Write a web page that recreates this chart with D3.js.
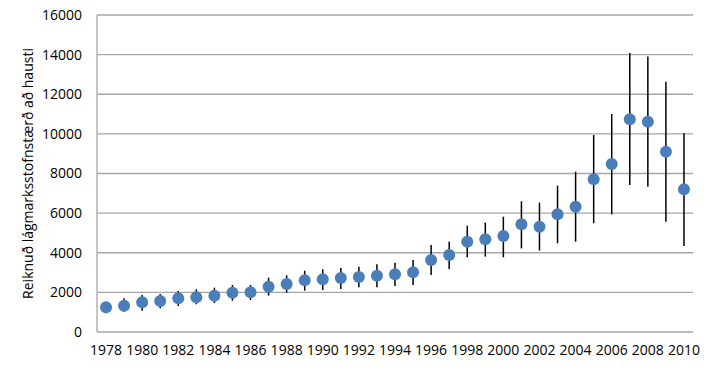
<!DOCTYPE html>
<html>
<head>
<meta charset="utf-8">
<script src="https://cdn.jsdelivr.net/npm/d3@7"></script>
<style>
  body { margin: 0; background: #fff; }
  text { font-family: "Open Sans", sans-serif; fill: #000; }
</style>
</head>
<body>
<script>
// ár og metin stofnstærð
const years = d3.range(1978, 2011);
const values = [1245, 1330, 1498, 1565, 1700, 1750, 1835, 1985, 2003, 2289, 2423,
  2608, 2660, 2726, 2776, 2844, 2911, 3013, 3634, 3887, 4559, 4678, 4846,
  5435, 5316, 5940, 6327, 7707, 8480, 10735, 10615, 9100, 7200];
const upper = [1531, 1700, 1868, 1918, 2070, 2154, 2238, 2372, 2372, 2743, 2860,
  3095, 3163, 3231, 3298, 3415, 3500, 3634, 4392, 4559, 5367, 5518, 5820,
  6595, 6527, 7386, 8093, 9944, 11005, 14084, 13900, 12635, 10030];
const lower = [943, 1025, 1077, 1196, 1312, 1398, 1464, 1580, 1615, 1835, 1985,
  2085, 2120, 2170, 2255, 2255, 2322, 2372, 2877, 3180, 3769, 3803, 3769,
  4223, 4105, 4475, 4560, 5485, 5940, 7420, 7335, 5570, 4340];
const yTicks = [0, 2000, 4000, 6000, 8000, 10000, 12000, 14000, 16000];
const yLabel = "Reiknuð lágmarksstofnstærð að hausti";

const W = 713, H = 371;
const margin = {left: 97, right: 20, top: 15, bottom: 39};

const svg = d3.select("body").append("svg")
  .attr("width", W).attr("height", H);

const x = d3.scaleBand()
  .domain(years)
  .range([margin.left, W - margin.right]);

const y = d3.scaleLinear()
  .domain([0, 16000])
  .range([H - margin.bottom, margin.top]);

// gridlines
svg.append("g")
  .selectAll("line")
  .data(yTicks)
  .enter().append("line")
  .attr("x1", margin.left)
  .attr("x2", W - margin.right)
  .attr("y1", d => y(d))
  .attr("y2", d => y(d))
  .attr("stroke", "#a6a6a6")
  .attr("stroke-width", 1.3);

// left axis line
svg.append("line")
  .attr("x1", margin.left).attr("x2", margin.left)
  .attr("y1", y(16000)).attr("y2", y(0))
  .attr("stroke", "#a6a6a6")
  .attr("stroke-width", 1.3);

const yAxis = svg.append("g")
  .attr("transform", `translate(${margin.left},0)`)
  .call(d3.axisLeft(y).tickValues(yTicks).tickSize(0).tickPadding(15).tickFormat(d3.format("d")));
yAxis.select(".domain").remove();
yAxis.selectAll("text").style("font-size", "14px").style("font-family", "Open Sans, sans-serif");

const xAxis = svg.append("g")
  .attr("transform", `translate(0,${H - margin.bottom})`)
  .call(d3.axisBottom(x).tickValues(years.filter(d => d % 2 === 0)).tickSize(0).tickPadding(13));
xAxis.select(".domain").remove();
xAxis.selectAll("text").style("font-size", "14px").style("font-family", "Open Sans, sans-serif");

// error bars
svg.append("g")
  .selectAll("line")
  .data(years)
  .enter().append("line")
  .attr("x1", d => x(d) + x.bandwidth() / 2)
  .attr("x2", d => x(d) + x.bandwidth() / 2)
  .attr("y1", (d, i) => y(upper[i]))
  .attr("y2", (d, i) => y(lower[i]))
  .attr("stroke", "#000")
  .attr("stroke-width", 1.5);

// points
svg.append("g")
  .selectAll("circle")
  .data(years)
  .enter().append("circle")
  .attr("cx", d => x(d) + x.bandwidth() / 2)
  .attr("cy", (d, i) => y(values[i]))
  .attr("r", 6)
  .attr("fill", "#4a7ebb");

svg.append("text")
  .attr("transform", `translate(28,${(y(0) + y(16000)) / 2}) rotate(-90)`)
  .attr("text-anchor", "middle")
  .attr("dy", "0.35em")
  .style("font-size", "14px")
  .text(yLabel);
</script>
</body>
</html>
